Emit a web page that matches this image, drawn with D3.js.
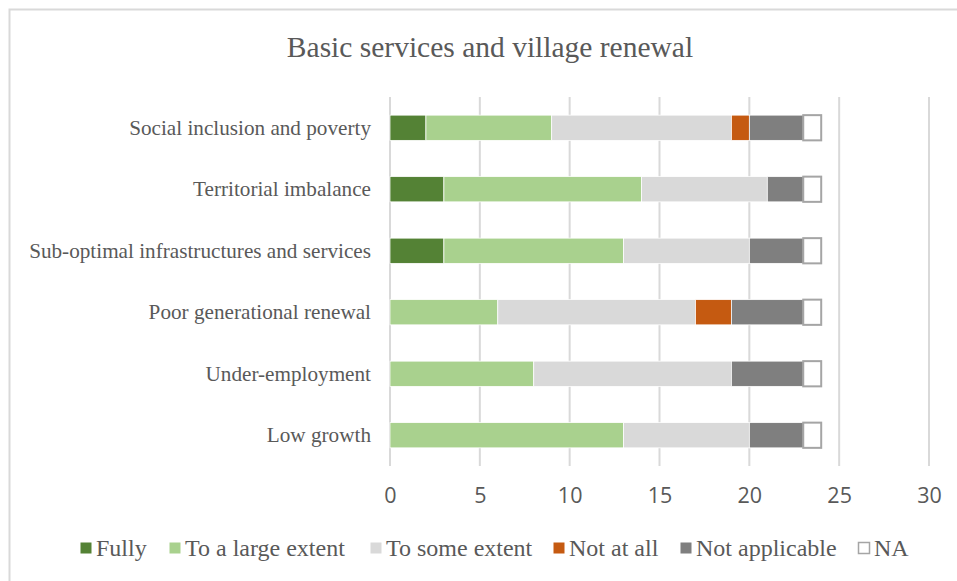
<!DOCTYPE html>
<html>
<head>
<meta charset="utf-8">
<script src="https://cdn.jsdelivr.net/npm/d3@7"></script>
<style>
  html, body { margin: 0; padding: 0; background: #fff; }
  svg { display: block; }
</style>
</head>
<body>
<svg id="chart" width="957" height="581"></svg>
<script>
// Categories, top to bottom
const categories = [
  "Social inclusion and poverty",
  "Territorial imbalance",
  "Sub-optimal infrastructures and services",
  "Poor generational renewal",
  "Under-employment",
  "Low growth"
];

// Series (one value per category, same order)
const seriesNames = ["Fully", "To a large extent", "To some extent", "Not at all", "Not applicable", "NA"];
const fully        = [2, 3, 3, 0, 0, 0];
const largeExtent  = [7, 11, 10, 6, 8, 13];
const someExtent   = [10, 7, 7, 11, 11, 7];
const notAtAll     = [1, 0, 0, 2, 0, 0];
const notApplicable= [3, 2, 3, 4, 4, 3];
const na           = [1, 1, 1, 1, 1, 1];

const xTicks = [0, 5, 10, 15, 20, 25, 30];

const seriesValues = [fully, largeExtent, someExtent, notAtAll, notApplicable, na];
const fills   = ["#548235", "#a9d18e", "#d9d9d9", "#c55a11", "#7f7f7f", "#ffffff"];

const serif = "'Liberation Serif', 'Times New Roman', serif";
const svg = d3.select("#chart");

// chart frame
svg.append("rect")
  .attr("x", 9.5).attr("y", 9.5)
  .attr("width", 960).attr("height", 600)
  .attr("fill", "none").attr("stroke", "#d9d9d9").attr("stroke-width", 2);

// title
svg.append("text")
  .attr("x", 490).attr("y", 57)
  .attr("text-anchor", "middle")
  .attr("font-family", serif)
  .attr("font-size", 29.5)
  .attr("fill", "#595959")
  .text("Basic services and village renewal");

const x = d3.scaleLinear().domain([0, 30]).range([390, 929]);
const y = d3.scaleBand().domain(categories).range([97, 466]).paddingInner(0.59).paddingOuter(0.295);

// gridlines
svg.append("g")
  .selectAll("line")
  .data(xTicks)
  .join("line")
  .attr("x1", d => x(d)).attr("x2", d => x(d))
  .attr("y1", 97).attr("y2", 466)
  .attr("stroke", "#d9d9d9").attr("stroke-width", 2);

// stacked data
const rows = categories.map((c, i) => {
  const r = { category: c };
  seriesNames.forEach((s, j) => r[s] = seriesValues[j][i]);
  return r;
});
const stacked = d3.stack().keys(seriesNames)(rows);

const layers = svg.append("g")
  .selectAll("g")
  .data(stacked)
  .join("g")
  .attr("fill", (d, i) => fills[i]);

layers.selectAll("rect")
  .data((d, i) => d.map(p => ({ p, i })))
  .join("rect")
  .filter(d => d.p[1] - d.p[0] > 0)
  .attr("x", d => x(d.p[0]))
  .attr("y", d => y(d.p.data.category))
  .attr("width", d => x(d.p[1]) - x(d.p[0]))
  .attr("height", y.bandwidth())
  .attr("stroke", d => d.i === 5 ? "#a5a5a5" : "#ffffff")
  .attr("stroke-width", d => d.i === 5 ? 2 : 0.75);

// x axis labels
const xAxis = d3.axisBottom(x).tickValues(xTicks).tickSize(0).tickPadding(0);
const gx = svg.append("g").attr("transform", "translate(0,495)").call(xAxis);
gx.select(".domain").remove();
gx.selectAll("text")
  .attr("font-family", "'Open Sans', Carlito, sans-serif")
  .attr("font-size", 21.5)
  .attr("fill", "#595959")
  .attr("y", 0)
  .attr("dy", "0.35em");

// category labels
const yAxis = d3.axisLeft(y).tickSize(0).tickPadding(0);
const gy = svg.append("g").attr("transform", "translate(371,0)").call(yAxis);
gy.select(".domain").remove();
gy.selectAll("text")
  .attr("font-family", serif)
  .attr("font-size", 21.2)
  .attr("fill", "#595959");

// legend
const legendX = [80, 169, 370, 553, 680, 858];
const legend = svg.append("g").selectAll("g")
  .data(seriesNames)
  .join("g")
  .attr("transform", (d, i) => `translate(${legendX[i]},548)`);
legend.append("rect")
  .attr("x", 0.5).attr("y", -5.5)
  .attr("width", 11).attr("height", 11)
  .attr("fill", (d, i) => fills[i])
  .attr("stroke", (d, i) => i === 5 ? "#a5a5a5" : "none")
  .attr("stroke-width", 1.5);
legend.append("text")
  .attr("x", 16).attr("y", 0)
  .attr("dy", "0.35em")
  .attr("font-family", serif)
  .attr("font-size", 24)
  .attr("fill", "#595959")
  .text(d => d);
</script>
</body>
</html>
